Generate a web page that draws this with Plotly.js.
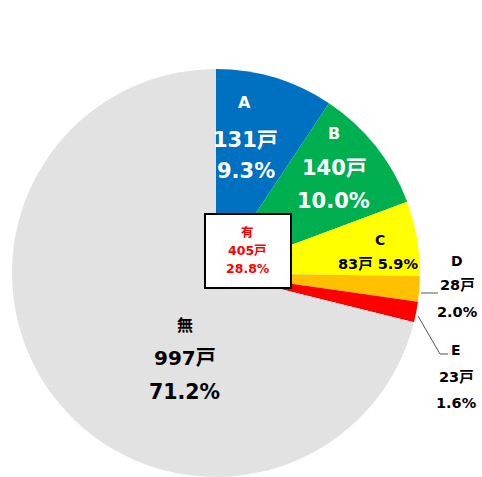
<!DOCTYPE html>
<html><head><meta charset="utf-8">
<script src="https://cdn.plot.ly/plotly-3.0.1.min.js"></script>
<style>html,body{margin:0;padding:0;background:#fff}</style>
</head><body><div id="chart" style="width:482px;height:477px"></div>
<script>
const labels = ["A", "B", "C", "D", "E", "無"];
const counts = [131, 140, 83, 28, 23, 997];
const pcts = ["9.3%", "10.0%", "5.9%", "2.0%", "1.6%", "71.2%"];
const colors = ["#0070C0", "#00B050", "#FFFF00", "#FFC000", "#FF0000", "#E2E2E2"];
const totalLabel = "有";
const totalCount = 405;
const totalPct = "28.8%";
const unit = "戸";

const W = 482, H = 477;
const M = {l: 11, r: 61, t: 69, b: 0};
const PW = W - M.l - M.r, PH = H - M.t - M.b;
function px(x) { return (x - M.l) / PW; }
function py(y) { return (H - M.b - y) / PH; }

const FONT = "DejaVu Sans, Noto Sans CJK JP, sans-serif";
const ann = [];
function txt(s, x, y, size, color, bold) {
  ann.push({text: bold ? "<b>" + s + "</b>" : s, x: px(x), y: py(y), xref: "paper", yref: "paper",
    showarrow: false, xanchor: "center", yanchor: "middle",
    font: {family: FONT, size: size, color: color}});
}
// A
txt(labels[0], 245, 102, 16, "#fff", true);
txt(counts[0] + unit, 246, 140, 21, "#fff", true);
txt(pcts[0], 246, 171, 21, "#fff", true);
// B
txt(labels[1], 334, 133, 16, "#fff", true);
txt(counts[1] + unit, 334, 168, 21, "#fff", true);
txt(pcts[1], 333, 201, 21, "#fff", true);
// C
txt(labels[2], 380, 240, 14, "#000", true);
txt(counts[2] + unit + " " + pcts[2], 378, 264, 14.5, "#000", true);
// D
txt(labels[3], 457, 261, 14, "#000", true);
txt(counts[3] + unit, 457, 285, 14.5, "#000", true);
txt(pcts[3], 457, 312, 14.5, "#000", true);
// E
txt(labels[4], 456, 350, 14, "#000", true);
txt(counts[4] + unit, 456, 377, 14.5, "#000", true);
txt(pcts[4], 456, 403, 14.5, "#000", true);
// 無
txt(labels[5], 185, 325, 16, "#000", true);
txt(counts[5] + unit, 185, 358, 20, "#000", true);
txt(pcts[5], 184, 392, 20.5, "#000", true);
// 有 box
txt(totalLabel, 248, 232, 12.5, "#FF0000", true);
txt(totalCount + unit, 248, 250, 12.5, "#FF0000", true);
txt(totalPct, 248, 268, 12.5, "#FF0000", true);

const shapes = [
  {type: "rect", xref: "paper", yref: "paper", x0: px(205), x1: px(291), y0: py(214), y1: py(288),
    fillcolor: "#fff", line: {color: "#000", width: 2}, layer: "above"},
  {type: "line", xref: "paper", yref: "paper", x0: px(421), x1: px(438), y0: py(293), y1: py(293),
    line: {color: "#555", width: 1}},
  {type: "path", xref: "paper", yref: "paper",
    path: "M " + px(418) + "," + py(316) + " L " + px(440) + "," + py(354) + " L " + px(448) + "," + py(354),
    line: {color: "#555", width: 1}}
];
const data = [{
  type: "pie", labels: labels, values: counts, sort: false, direction: "clockwise", rotation: 0,
  marker: {colors: colors, line: {width: 0}}, textinfo: "none", hoverinfo: "none",
  domain: {x: [0, 1], y: [0, 1]}, showlegend: false
}];
const layout = {
  width: W, height: H, margin: M, paper_bgcolor: "#fff", plot_bgcolor: "#fff",
  showlegend: false, annotations: ann, shapes: shapes
};
Plotly.newPlot("chart", data, layout, {displayModeBar: false, staticPlot: true});
</script></body></html>
